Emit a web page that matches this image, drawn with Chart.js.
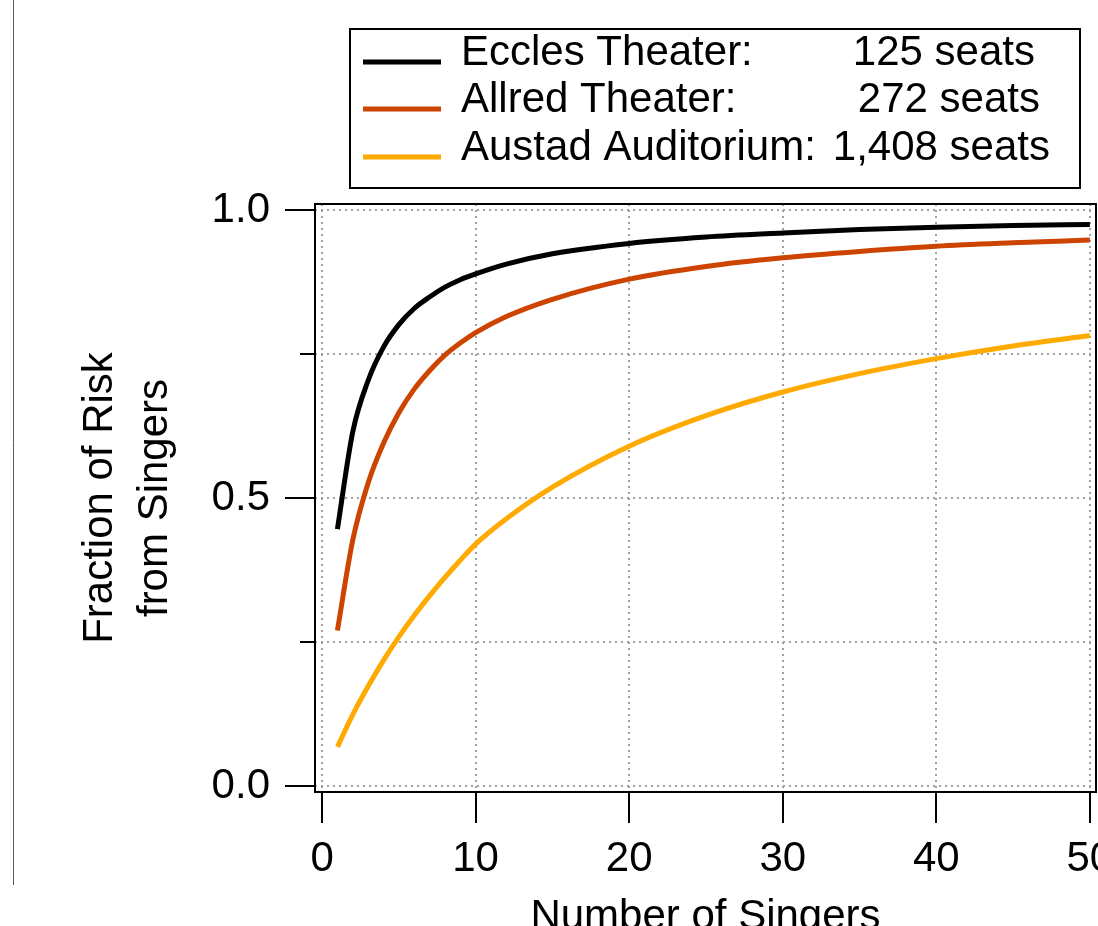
<!DOCTYPE html>
<html>
<head>
<meta charset="utf-8">
<script src="https://cdn.jsdelivr.net/npm/chart.js@4"></script>
<style>
  body { margin: 0; background: #fff; }
  #wrap { width: 1098px; height: 926px; position: relative; }
</style>
</head>
<body>
<div id="wrap"><canvas id="riskChart" width="1098" height="926"></canvas></div>
<script>
// number of singers (x) and fraction of risk
const singers = [1, 2, 3, 4, 5, 6, 7, 8, 9, 10, 12, 15, 20, 25, 30, 35, 40, 45, 50];
const eccles = [0.446, 0.615, 0.704, 0.762, 0.801, 0.829, 0.849, 0.866, 0.879, 0.889, 0.906, 0.924, 0.942, 0.953, 0.960, 0.966, 0.970, 0.973, 0.975];
const allred = [0.270, 0.427, 0.526, 0.595, 0.648, 0.689, 0.721, 0.748, 0.769, 0.787, 0.815, 0.845, 0.880, 0.902, 0.917, 0.928, 0.937, 0.943, 0.948];
const austad = [0.068, 0.124, 0.173, 0.218, 0.259, 0.296, 0.330, 0.362, 0.392, 0.420, 0.464, 0.519, 0.590, 0.643, 0.684, 0.716, 0.742, 0.764, 0.782];

const venueNames = ['Eccles Theater:', 'Allred Theater:', 'Austad Auditorium:'];
const venueSeats = ['125 seats', '272 seats', '1,408 seats'];
const venueColors = ['#000000', '#CC4400', '#FFAA00'];

const xTicks = [0, 10, 20, 30, 40, 50];
const yTicks = [0, 0.25, 0.5, 0.75, 1];
const yLabelled = [0, 0.5, 1];

const FONT = "'Liberation Sans', Arial, sans-serif";

const toPoints = (ys) => singers.map((x, i) => ({ x: x, y: ys[i] }));

// frame, outside tick marks, legend box and the stray page rule on the left
const framePlugin = {
  id: 'frame',
  beforeDraw(chart) {
    const ctx = chart.ctx;
    ctx.save();
    ctx.strokeStyle = '#5e5270';
    ctx.lineWidth = 1;
    ctx.beginPath();
    ctx.moveTo(13.5, 0);
    ctx.lineTo(13.5, 885);
    ctx.stroke();
    ctx.restore();
  },
  afterDraw(chart) {
    const { ctx, chartArea: a } = chart;
    const xs = chart.scales.x;
    const ys = chart.scales.y;
    ctx.save();
    ctx.strokeStyle = '#000';
    ctx.lineWidth = 2;
    ctx.strokeRect(a.left, a.top, a.right - a.left, a.bottom - a.top);

    yTicks.forEach(v => {
      const py = Math.round(ys.getPixelForValue(v));
      const len = yLabelled.includes(v) ? 30 : 15;
      ctx.beginPath();
      ctx.moveTo(a.left - len, py);
      ctx.lineTo(a.left, py);
      ctx.stroke();
    });
    xTicks.forEach(v => {
      const px = Math.round(xs.getPixelForValue(v));
      ctx.beginPath();
      ctx.moveTo(px, a.bottom);
      ctx.lineTo(px, a.bottom + 31);
      ctx.stroke();
    });

    // legend
    ctx.lineWidth = 2;
    ctx.strokeRect(350, 29, 730, 159);
    const rowY = [53, 100, 148];
    const seatRight = [1035, 1040, 1050];
    ctx.font = '42px ' + FONT;
    ctx.fillStyle = '#000';
    ctx.textBaseline = 'middle';
    chart.data.datasets.forEach((ds, i) => {
      ctx.strokeStyle = ds.borderColor;
      ctx.lineWidth = 5;
      ctx.beginPath();
      ctx.moveTo(363, rowY[i] + 9);
      ctx.lineTo(441, rowY[i] + 9);
      ctx.stroke();
      ctx.textAlign = 'left';
      ctx.fillText(venueNames[i], 461, rowY[i]);
      ctx.textAlign = 'right';
      ctx.fillText(venueSeats[i], seatRight[i], rowY[i]);
    });
    ctx.restore();
  }
};

new Chart(document.getElementById('riskChart'), {
  type: 'line',
  data: {
    datasets: [
      { label: venueNames[0], data: toPoints(eccles), borderColor: venueColors[0] },
      { label: venueNames[1], data: toPoints(allred), borderColor: venueColors[1] },
      { label: venueNames[2], data: toPoints(austad), borderColor: venueColors[2] }
    ]
  },
  options: {
    responsive: false,
    animation: false,
    devicePixelRatio: 1,
    layout: { padding: { top: 204, right: 2, left: 0, bottom: 0 } },
    elements: {
      line: { borderWidth: 5, cubicInterpolationMode: 'monotone', fill: false },
      point: { radius: 0 }
    },
    plugins: {
      legend: { display: false },
      tooltip: { enabled: false }
    },
    scales: {
      x: {
        type: 'linear',
        min: -0.46,
        max: 50.4,
        afterFit: (s) => { s.height = 134; s.paddingLeft = 0; s.paddingRight = 0; },
        afterBuildTicks: (s) => { s.ticks = xTicks.map(v => ({ value: v })); },
        grid: { color: '#a0a0a0', lineWidth: 2, drawTicks: false },
        border: { display: false, dash: [2, 4] },
        ticks: {
          color: '#000',
          padding: 42,
          maxRotation: 0,
          font: { family: FONT, size: 42 },
          callback: (v) => String(v)
        },
        title: {
          display: true,
          text: 'Number of Singers',
          color: '#000',
          font: { family: FONT, size: 42, lineHeight: 1 },
          padding: { top: 0, bottom: -12 }
        }
      },
      y: {
        type: 'linear',
        min: -0.0104,
        max: 1.0104,
        afterFit: (s) => { s.width = 315; s.paddingTop = 0; s.paddingBottom = 0; },
        afterBuildTicks: (s) => { s.ticks = yTicks.map(v => ({ value: v })); },
        grid: { color: '#a0a0a0', lineWidth: 2, drawTicks: false },
        border: { display: false, dash: [2, 4] },
        ticks: {
          color: '#000',
          padding: 45,
          font: { family: FONT, size: 42 },
          callback: (v) => yLabelled.includes(v) ? v.toFixed(1) : ''
        },
        title: {
          display: true,
          text: ['Fraction of Risk', 'from Singers'],
          color: '#000',
          font: { family: FONT, size: 42, lineHeight: 1.33 },
          padding: { top: 72, bottom: 0 }
        }
      }
    }
  },
  plugins: [framePlugin]
});
</script>
</body>
</html>
